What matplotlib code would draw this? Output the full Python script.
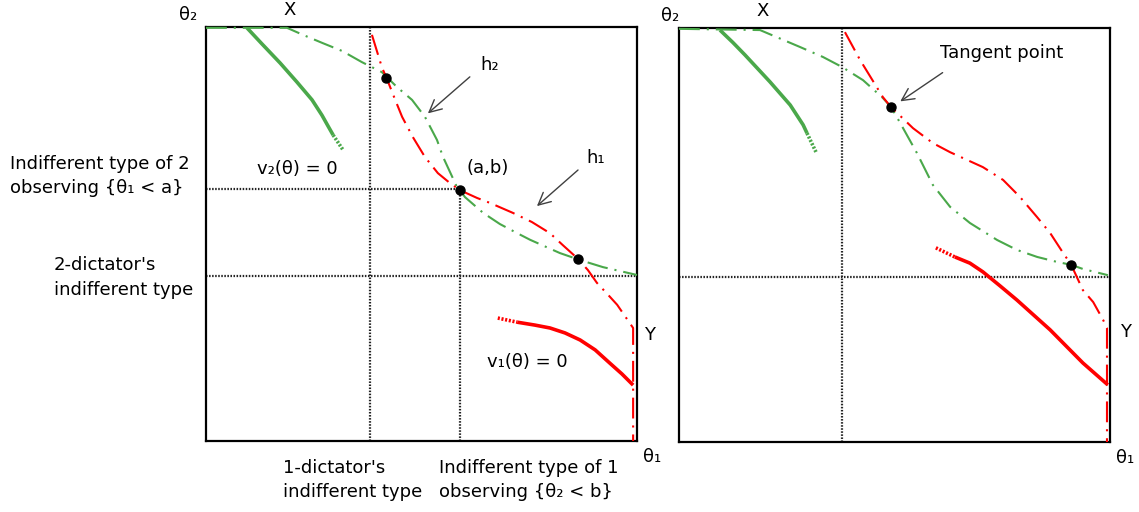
import matplotlib
matplotlib.use("Agg")
import matplotlib.pyplot as plt

plt.rcParams['font.family'] = ['DejaVu Sans']
plt.rcParams['lines.scale_dashes'] = False

GREEN = '#4aa84a'
RED = '#ff0000'

# both panels use theta1, theta2 in [0, 100]
# left panel curves
left_v2_x = [9.5, 13.0, 17.2, 21.1, 24.6, 26.9, 28.3, 29.5]
left_v2_y = [99.8, 95.9, 91.3, 86.7, 82.4, 78.7, 76.1, 73.9]
left_v2_tail_x = [29.5, 31.8]
left_v2_tail_y = [73.9, 70.3]

left_h2_x = [0, 18.8, 22.5, 27.1, 31.6, 36.2, 40.8, 44.3, 47.8, 50.8, 53.6, 55.0, 58.2,
             58.9, 60.1, 64.3, 68.2, 72.2, 75.2, 82.1, 86.8, 92.1, 100]
left_h2_y = [99.8, 99.8, 98.1, 96.1, 94.2, 91.5, 89.1, 85.5, 82.4, 78.3, 72.7, 68.6, 61.4,
             60.6, 58.9, 55.1, 52.4, 50.2, 48.6, 45.4, 43.7, 42.0, 40.1]

left_h1_x = [38.5, 40.8, 42.0, 43.9, 45.5, 48.0, 50.8, 53.8, 56.6, 58.9, 62.9, 65.9, 71.2,
             75.6, 79.8, 82.8, 86.1, 88.6, 90.7, 93.3, 95.4, 99.1, 99.1]
left_h1_y = [98.1, 90.3, 87.4, 82.4, 78.3, 73.4, 68.6, 64.7, 62.3, 60.6, 58.7, 57.5, 55.1,
             52.9, 50.2, 47.3, 44.2, 41.3, 38.2, 35.3, 32.9, 27.3, 0]

left_v1_x = [72.2, 76.3, 79.8, 83.3, 86.8, 90.3, 93.7, 96.5, 99.1]
left_v1_y = [28.7, 28.0, 27.3, 26.1, 24.4, 22.0, 18.8, 16.2, 13.5]
left_v1_tail_x = [67.7, 72.2]
left_v1_tail_y = [29.7, 28.7]

left_dots_x = [41.8, 58.9, 86.3]
left_dots_y = [87.7, 60.6, 44.0]

a_val, b_val = 59.0, 60.8
one_dictator_x = 38.1
two_dictator_y = 39.9

# right panel curves
right_v2_x = [9.5, 12.5, 15.3, 21.1, 25.8, 28.8, 29.7]
right_v2_y = [99.5, 96.5, 93.5, 87.0, 81.4, 76.6, 74.6]
right_v2_tail_x = [29.7, 31.8]
right_v2_tail_y = [74.6, 70.0]

right_h2_x = [0, 18.8, 28.1, 33.4, 37.8, 42.7, 47.3, 49.2, 51.3, 55.2, 58.9, 62.9, 67.5,
              73.8, 78.4, 83.1, 87.7, 91.0, 93.7, 99.5]
right_h2_y = [99.8, 99.5, 95.4, 93.0, 90.6, 87.4, 83.1, 80.9, 77.1, 69.8, 62.1, 56.8, 52.9,
              48.8, 46.4, 44.7, 43.5, 42.8, 41.8, 40.3]

right_h1_x = [38.5, 42.0, 47.3, 49.2, 54.3, 58.9, 62.9, 70.5, 75.2, 79.1, 83.1, 86.1, 89.1,
              91.0, 93.7, 96.1, 98.4, 99.3, 99.3]
right_h1_y = [99.0, 92.3, 83.3, 80.9, 75.8, 72.2, 70.0, 66.4, 63.3, 59.2, 54.3, 50.5, 45.7,
              42.8, 36.7, 33.8, 29.5, 27.5, 0]

right_v1_x = [64.0, 67.5, 70.5, 74.5, 78.4, 86.1, 93.7, 99.5]
right_v1_y = [44.7, 43.2, 41.1, 37.7, 34.3, 27.1, 19.1, 13.8]
right_v1_tail_x = [59.6, 64.0]
right_v1_tail_y = [46.9, 44.7]

right_dots_x = [49.2, 91.0]
right_dots_y = [80.9, 42.8]

right_vline_x = 37.8
right_hline_y = 39.9

DASHDOT = (0, (15, 5, 1.5, 5))
DOTTED = (0, (1.1, 1.1))
GUIDE_LW = 1.6
FS = 13


def setup_panel(ax):
    ax.set_xlim(0, 100)
    ax.set_ylim(0, 100)
    ax.set_xticks([])
    ax.set_yticks([])
    for s in ax.spines.values():
        s.set_color('black')
        s.set_linewidth(1.6)


def draw_curves(ax, v2, v2_tail, h2, h1, v1, v1_tail, dots):
    ax.plot(*v2, color=GREEN, lw=2.6, solid_capstyle='butt', solid_joinstyle='round', zorder=3)
    ax.plot(*v2_tail, color=GREEN, lw=2.6, linestyle=(0, (1.5, 1.2)), zorder=3)
    ax.plot(*h2, color=GREEN, lw=1.5, linestyle=DASHDOT, zorder=3, clip_on=False)
    ax.plot(*h1, color=RED, lw=1.5, linestyle=DASHDOT, zorder=3, clip_on=False)
    ax.plot(*v1, color=RED, lw=2.6, solid_capstyle='butt', solid_joinstyle='round', zorder=3)
    ax.plot(*v1_tail, color=RED, lw=2.6, linestyle=(0, (1.5, 1.2)), zorder=3)
    ax.plot(*dots, 'o', color='black', markersize=6.5, zorder=5)


def main():
    fig = plt.figure(figsize=(11.39, 5.12), dpi=100)
    ax1 = fig.add_axes([206 / 1139, 71 / 512, 431 / 1139, 414 / 512])
    ax2 = fig.add_axes([679 / 1139, 70 / 512, 431 / 1139, 414 / 512])
    setup_panel(ax1)
    setup_panel(ax2)

    # left panel: guide lines
    guide = dict(color='#222222', lw=GUIDE_LW, linestyle=DOTTED)
    ax1.plot([one_dictator_x, one_dictator_x], [0, 100], **guide)
    ax1.plot([0, 100], [two_dictator_y, two_dictator_y], **guide)
    ax1.plot([a_val, a_val], [0, b_val], **guide)
    ax1.plot([0, a_val], [b_val, b_val], **guide)

    draw_curves(ax1, (left_v2_x, left_v2_y), (left_v2_tail_x, left_v2_tail_y),
                (left_h2_x, left_h2_y), (left_h1_x, left_h1_y),
                (left_v1_x, left_v1_y), (left_v1_tail_x, left_v1_tail_y),
                (left_dots_x, left_dots_y))

    kw = dict(fontsize=FS, clip_on=False)
    ax1.text(-4.2, 102.8, 'θ₂', ha='center', va='center', **kw)
    ax1.text(19.5, 104, 'X', ha='center', va='center', **kw)
    ax1.text(21.1, 65.7, 'v₂(θ) = 0', ha='center', va='center', **kw)
    ax1.text(65.4, 65.9, '(a,b)', ha='center', va='center', **kw)
    ax1.text(65.8, 90.8, 'h₂', ha='center', va='center', **kw)
    ax1.text(90.3, 68.4, 'h₁', ha='center', va='center', **kw)
    ax1.text(74.5, 19.1, 'v₁(θ) = 0', ha='center', va='center', **kw)
    ax1.text(103.0, 25.6, 'Y', ha='center', va='center', **kw)
    ax1.text(103.5, -3.9, 'θ₁', ha='center', va='center', **kw)
    ax1.text(-45.5, 64.0, 'Indifferent type of 2\nobserving {θ₁ < a}', ha='left', va='center',
             linespacing=1.45, **kw)
    ax1.text(-35.3, 39.5, "2-dictator's\nindifferent type", ha='left', va='center',
             linespacing=1.45, **kw)
    ax1.text(17.9, -9.5, "1-dictator's\nindifferent type", ha='left', va='center',
             linespacing=1.45, **kw)
    ax1.text(54.1, -9.5, 'Indifferent type of 1\nobserving {θ₂ < b}', ha='left', va='center',
             linespacing=1.45, **kw)

    arrow = dict(arrowstyle='->', color='#404040', lw=1.0, mutation_scale=22)
    ax1.annotate('', xy=(51.0, 78.7), xytext=(61.7, 88.4), arrowprops=arrow)
    ax1.annotate('', xy=(76.3, 56.3), xytext=(86.8, 65.9), arrowprops=arrow)

    # right panel
    ax2.plot([right_vline_x, right_vline_x], [0, 100], **guide)
    ax2.plot([0, 100], [right_hline_y, right_hline_y], **guide)

    draw_curves(ax2, (right_v2_x, right_v2_y), (right_v2_tail_x, right_v2_tail_y),
                (right_h2_x, right_h2_y), (right_h1_x, right_h1_y),
                (right_v1_x, right_v1_y), (right_v1_tail_x, right_v1_tail_y),
                (right_dots_x, right_dots_y))

    ax2.text(-2.1, 102.8, 'θ₂', ha='center', va='center', **kw)
    ax2.text(19.3, 104, 'X', ha='center', va='center', **kw)
    ax2.text(74.9, 94.0, 'Tangent point', ha='center', va='center', **kw)
    ax2.text(103.5, 26.6, 'Y', ha='center', va='center', **kw)
    ax2.text(103.5, -3.9, 'θ₁', ha='center', va='center', **kw)
    ax2.annotate('', xy=(50.8, 81.9), xytext=(61.7, 89.6), arrowprops=arrow)

    fig.savefig('out.png', dpi=100)


if __name__ == "__main__":
    main()
